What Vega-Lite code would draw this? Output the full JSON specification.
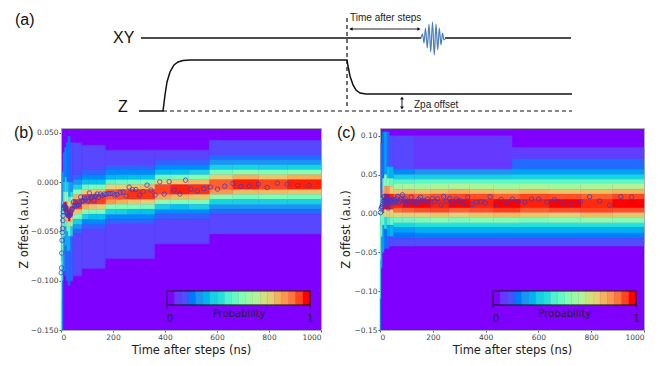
{"$schema":"https://vega.github.io/schema/vega-lite/v6.json","padding":{"left":13,"top":0,"right":0,"bottom":0},"background":"white","spacing":2,
"config":{"view":{"stroke":null},"axis":{"labelFont":"DejaVu Sans","titleFont":"DejaVu Sans","labelFontSize":7.5,"labelColor":"#444","titleFontSize":11.5,"titleFontWeight":"normal","titleColor":"#222","domainColor":"#aaa","tickColor":"#555","tickSize":2,"labelPadding":1,"grid":false}},
"vconcat":[
{"width":604,"height":122,
"encoding":{"x":{"field":"pos","type":"quantitative","scale":{"domain":[61,665]},"axis":null},"y":{"field":"lev","type":"quantitative","scale":{"domain":[122,0]},"axis":null}},
"layer":[
{"data":{"values":[{"part":"xy1","pos":141,"lev":38},{"part":"xy1","pos":421,"lev":38},{"part":"xy2","pos":445,"lev":38},{"part":"xy2","pos":571,"lev":38},{"part":"z","pos":139,"lev":111},{"part":"z","pos":163,"lev":111},{"part":"z","pos":165,"lev":95},{"part":"z","pos":167,"lev":82},{"part":"z","pos":170,"lev":72},{"part":"z","pos":174,"lev":65},{"part":"z","pos":178,"lev":62},{"part":"z","pos":183,"lev":60.5},{"part":"z","pos":190,"lev":60},{"part":"z","pos":347,"lev":60},{"part":"z","pos":348,"lev":66},{"part":"z","pos":350,"lev":76},{"part":"z","pos":353,"lev":85},{"part":"z","pos":356,"lev":90},{"part":"z","pos":360,"lev":93},{"part":"z","pos":366,"lev":94},{"part":"z","pos":572,"lev":94}]},"mark":{"type":"line","color":"#111","strokeWidth":1.5},"encoding":{"detail":{"field":"part"},"order":{"field":"pos"}}},
{"data":{"values":[{"part":"v","pos":347,"lev":18},{"part":"v","pos":347.01,"lev":108},{"part":"h","pos":163,"lev":111},{"part":"h","pos":572,"lev":111}]},"mark":{"type":"line","color":"#111","strokeWidth":1.2,"strokeDash":[4,3]},"encoding":{"detail":{"field":"part"}}},
{"data":{"values":[{"part":"a","pos":350,"lev":29},{"part":"a","pos":419,"lev":29},{"part":"b","pos":402,"lev":98},{"part":"b","pos":402.01,"lev":108}]},"mark":{"type":"line","color":"#222","strokeWidth":1},"encoding":{"detail":{"field":"part"}}},
{"data":{"values":[{"pos":351,"lev":29,"head":"left"},{"pos":419,"lev":29,"head":"right"},{"pos":402,"lev":98,"head":"up"},{"pos":402,"lev":108,"head":"down"}]},"mark":{"type":"point","filled":true,"color":"#111","opacity":1,"size":14},"encoding":{"shape":{"field":"head","type":"nominal","legend":null,"scale":{"domain":["left","right","up","down"],"range":["triangle-left","triangle-right","triangle-up","triangle-down"]}}}},
{"data":{"values":[{"pos":421,"lev":38},{"pos":422.5,"lev":34},{"pos":424,"lev":43},{"pos":425.5,"lev":28},{"pos":427.3,"lev":48},{"pos":429,"lev":24},{"pos":430.7,"lev":52},{"pos":432.5,"lev":22},{"pos":434.3,"lev":55},{"pos":436,"lev":24},{"pos":437.7,"lev":50},{"pos":439.3,"lev":28},{"pos":441,"lev":45},{"pos":442.5,"lev":33},{"pos":444,"lev":40},{"pos":445.5,"lev":38}]},"mark":{"type":"line","color":"#4a7ebb","strokeWidth":1.2,"interpolate":"monotone"}},
{"data":{"values":[{"txt":"(a)","pos":15,"lev":20},{"txt":"XY","pos":113,"lev":38},{"txt":"Z","pos":118,"lev":107}]},"mark":{"type":"text","font":"Liberation Sans","fontSize":16,"align":"left","baseline":"middle","color":"#111"},"encoding":{"text":{"field":"txt"}}},
{"data":{"values":[{"txt":"Time after steps","pos":350,"lev":18},{"txt":"Zpa offset","pos":414,"lev":105}]},"mark":{"type":"text","font":"Liberation Sans","fontSize":10,"align":"left","baseline":"middle","color":"#222"},"encoding":{"text":{"field":"txt"}}}
]},
{"spacing":14,"hconcat":[
{"width":260,"height":202,"view":{"fill":"#8000ff","stroke":"#aaa"},
"layer":[
{"data":{"values":[
{"t0":570,"t1":1000,"z0":0.0275,"z1":0.0425,"p":0.08},{"t0":570,"t1":1000,"z0":0.0225,"z1":0.0275,"p":0.13},{"t0":570,"t1":1000,"z0":0.0175,"z1":0.0225,"p":0.2},{"t0":570,"t1":1000,"z0":-0.0275,"z1":-0.0225,"p":0.2},{"t0":570,"t1":1000,"z0":-0.0325,"z1":-0.0275,"p":0.13},{"t0":570,"t1":1000,"z0":-0.0525,"z1":-0.0325,"p":0.08},
{"t0":870,"t1":1000,"z0":0.0125,"z1":0.0175,"p":0.32},{"t0":870,"t1":1000,"z0":0.0075,"z1":0.0125,"p":0.52},{"t0":870,"t1":1000,"z0":0.0025,"z1":0.0075,"p":0.76},{"t0":870,"t1":1000,"z0":-0.0075,"z1":0.0025,"p":0.98},{"t0":870,"t1":1000,"z0":-0.0125,"z1":-0.0075,"p":0.72},{"t0":870,"t1":1000,"z0":-0.0175,"z1":-0.0125,"p":0.48},{"t0":870,"t1":1000,"z0":-0.0225,"z1":-0.0175,"p":0.3},
{"t0":760,"t1":870,"z0":0.0125,"z1":0.0175,"p":0.3},{"t0":760,"t1":870,"z0":0.0075,"z1":0.0125,"p":0.5},{"t0":760,"t1":870,"z0":0.0025,"z1":0.0075,"p":0.72},{"t0":760,"t1":870,"z0":-0.0075,"z1":0.0025,"p":0.92},{"t0":760,"t1":870,"z0":-0.0125,"z1":-0.0075,"p":0.74},{"t0":760,"t1":870,"z0":-0.0175,"z1":-0.0125,"p":0.5},{"t0":760,"t1":870,"z0":-0.0225,"z1":-0.0175,"p":0.3},
{"t0":660,"t1":760,"z0":0.0125,"z1":0.0175,"p":0.32},{"t0":660,"t1":760,"z0":0.0075,"z1":0.0125,"p":0.52},{"t0":660,"t1":760,"z0":0.0025,"z1":0.0075,"p":0.76},{"t0":660,"t1":760,"z0":-0.0075,"z1":0.0025,"p":0.98},{"t0":660,"t1":760,"z0":-0.0125,"z1":-0.0075,"p":0.74},{"t0":660,"t1":760,"z0":-0.0175,"z1":-0.0125,"p":0.48},{"t0":660,"t1":760,"z0":-0.0225,"z1":-0.0175,"p":0.3},
{"t0":570,"t1":660,"z0":0.0125,"z1":0.0175,"p":0.3},{"t0":570,"t1":660,"z0":0.0075,"z1":0.0125,"p":0.48},{"t0":570,"t1":660,"z0":0.0025,"z1":0.0075,"p":0.7},{"t0":570,"t1":660,"z0":-0.0075,"z1":0.0025,"p":0.88},{"t0":570,"t1":660,"z0":-0.0125,"z1":-0.0075,"p":0.8},{"t0":570,"t1":660,"z0":-0.0175,"z1":-0.0125,"p":0.52},{"t0":570,"t1":660,"z0":-0.0225,"z1":-0.0175,"p":0.32},
{"t0":360,"t1":570,"z0":0.0225,"z1":0.0325,"p":0.07},{"t0":360,"t1":570,"z0":0.0175,"z1":0.0225,"p":0.12},{"t0":360,"t1":570,"z0":0.0125,"z1":0.0175,"p":0.18},{"t0":360,"t1":570,"z0":-0.0325,"z1":-0.0275,"p":0.18},{"t0":360,"t1":570,"z0":-0.0375,"z1":-0.0325,"p":0.12},{"t0":360,"t1":570,"z0":-0.0625,"z1":-0.0375,"p":0.07},
{"t0":490,"t1":570,"z0":0.0075,"z1":0.0125,"p":0.3},{"t0":490,"t1":570,"z0":0.0025,"z1":0.0075,"p":0.5},{"t0":490,"t1":570,"z0":-0.0025,"z1":0.0025,"p":0.74},{"t0":490,"t1":570,"z0":-0.0125,"z1":-0.0025,"p":0.96},{"t0":490,"t1":570,"z0":-0.0175,"z1":-0.0125,"p":0.72},{"t0":490,"t1":570,"z0":-0.0225,"z1":-0.0175,"p":0.5},{"t0":490,"t1":570,"z0":-0.0275,"z1":-0.0225,"p":0.3},
{"t0":420,"t1":490,"z0":0.0075,"z1":0.0125,"p":0.28},{"t0":420,"t1":490,"z0":0.0025,"z1":0.0075,"p":0.48},{"t0":420,"t1":490,"z0":-0.0025,"z1":0.0025,"p":0.72},{"t0":420,"t1":490,"z0":-0.0125,"z1":-0.0025,"p":0.98},{"t0":420,"t1":490,"z0":-0.0175,"z1":-0.0125,"p":0.74},{"t0":420,"t1":490,"z0":-0.0225,"z1":-0.0175,"p":0.5},{"t0":420,"t1":490,"z0":-0.0275,"z1":-0.0225,"p":0.28},
{"t0":360,"t1":420,"z0":0.0075,"z1":0.0125,"p":0.27},{"t0":360,"t1":420,"z0":0.0025,"z1":0.0075,"p":0.46},{"t0":360,"t1":420,"z0":-0.0025,"z1":0.0025,"p":0.68},{"t0":360,"t1":420,"z0":-0.0125,"z1":-0.0025,"p":0.92},{"t0":360,"t1":420,"z0":-0.0175,"z1":-0.0125,"p":0.78},{"t0":360,"t1":420,"z0":-0.0225,"z1":-0.0175,"p":0.52},{"t0":360,"t1":420,"z0":-0.0275,"z1":-0.0225,"p":0.3},
{"t0":170,"t1":360,"z0":0.0175,"z1":0.0325,"p":0.07},{"t0":170,"t1":360,"z0":0.0125,"z1":0.0175,"p":0.12},{"t0":170,"t1":360,"z0":0.0075,"z1":0.0125,"p":0.18},{"t0":170,"t1":360,"z0":-0.0375,"z1":-0.0325,"p":0.18},{"t0":170,"t1":360,"z0":-0.0425,"z1":-0.0375,"p":0.12},{"t0":170,"t1":360,"z0":-0.0775,"z1":-0.0425,"p":0.07},
{"t0":305,"t1":360,"z0":0.0025,"z1":0.0075,"p":0.28},{"t0":305,"t1":360,"z0":-0.0025,"z1":0.0025,"p":0.48},{"t0":305,"t1":360,"z0":-0.0075,"z1":-0.0025,"p":0.74},{"t0":305,"t1":360,"z0":-0.0175,"z1":-0.0075,"p":0.95},{"t0":305,"t1":360,"z0":-0.0225,"z1":-0.0175,"p":0.7},{"t0":305,"t1":360,"z0":-0.0275,"z1":-0.0225,"p":0.48},{"t0":305,"t1":360,"z0":-0.0325,"z1":-0.0275,"p":0.28},
{"t0":255,"t1":305,"z0":0.0025,"z1":0.0075,"p":0.27},{"t0":255,"t1":305,"z0":-0.0025,"z1":0.0025,"p":0.47},{"t0":255,"t1":305,"z0":-0.0075,"z1":-0.0025,"p":0.72},{"t0":255,"t1":305,"z0":-0.0175,"z1":-0.0075,"p":0.96},{"t0":255,"t1":305,"z0":-0.0225,"z1":-0.0175,"p":0.72},{"t0":255,"t1":305,"z0":-0.0275,"z1":-0.0225,"p":0.5},{"t0":255,"t1":305,"z0":-0.0325,"z1":-0.0275,"p":0.28},
{"t0":210,"t1":255,"z0":0.0025,"z1":0.0075,"p":0.26},{"t0":210,"t1":255,"z0":-0.0025,"z1":0.0025,"p":0.45},{"t0":210,"t1":255,"z0":-0.0075,"z1":-0.0025,"p":0.7},{"t0":210,"t1":255,"z0":-0.0175,"z1":-0.0075,"p":0.9},{"t0":210,"t1":255,"z0":-0.0225,"z1":-0.0175,"p":0.76},{"t0":210,"t1":255,"z0":-0.0275,"z1":-0.0225,"p":0.5},{"t0":210,"t1":255,"z0":-0.0325,"z1":-0.0275,"p":0.3},
{"t0":170,"t1":210,"z0":0.0025,"z1":0.0075,"p":0.25},{"t0":170,"t1":210,"z0":-0.0025,"z1":0.0025,"p":0.42},{"t0":170,"t1":210,"z0":-0.0075,"z1":-0.0025,"p":0.68},{"t0":170,"t1":210,"z0":-0.0175,"z1":-0.0075,"p":0.88},{"t0":170,"t1":210,"z0":-0.0225,"z1":-0.0175,"p":0.8},{"t0":170,"t1":210,"z0":-0.0275,"z1":-0.0225,"p":0.52},{"t0":170,"t1":210,"z0":-0.0325,"z1":-0.0275,"p":0.32},
{"t0":80,"t1":170,"z0":0.0125,"z1":0.0375,"p":0.08},{"t0":80,"t1":170,"z0":0.0075,"z1":0.0125,"p":0.12},{"t0":80,"t1":170,"z0":0.0025,"z1":0.0075,"p":0.18},{"t0":80,"t1":170,"z0":-0.0425,"z1":-0.0375,"p":0.18},{"t0":80,"t1":170,"z0":-0.0475,"z1":-0.0425,"p":0.12},{"t0":80,"t1":170,"z0":-0.0875,"z1":-0.0475,"p":0.07},
{"t0":135,"t1":170,"z0":-0.0025,"z1":0.0025,"p":0.28},{"t0":135,"t1":170,"z0":-0.0075,"z1":-0.0025,"p":0.48},{"t0":135,"t1":170,"z0":-0.0125,"z1":-0.0075,"p":0.74},{"t0":135,"t1":170,"z0":-0.0225,"z1":-0.0125,"p":0.94},{"t0":135,"t1":170,"z0":-0.0275,"z1":-0.0225,"p":0.7},{"t0":135,"t1":170,"z0":-0.0325,"z1":-0.0275,"p":0.48},{"t0":135,"t1":170,"z0":-0.0375,"z1":-0.0325,"p":0.28},
{"t0":105,"t1":135,"z0":-0.0025,"z1":0.0025,"p":0.28},{"t0":105,"t1":135,"z0":-0.0075,"z1":-0.0025,"p":0.48},{"t0":105,"t1":135,"z0":-0.0125,"z1":-0.0075,"p":0.72},{"t0":105,"t1":135,"z0":-0.0225,"z1":-0.0125,"p":0.96},{"t0":105,"t1":135,"z0":-0.0275,"z1":-0.0225,"p":0.72},{"t0":105,"t1":135,"z0":-0.0325,"z1":-0.0275,"p":0.48},{"t0":105,"t1":135,"z0":-0.0375,"z1":-0.0325,"p":0.28},
{"t0":80,"t1":105,"z0":-0.0025,"z1":0.0025,"p":0.28},{"t0":80,"t1":105,"z0":-0.0075,"z1":-0.0025,"p":0.46},{"t0":80,"t1":105,"z0":-0.0125,"z1":-0.0075,"p":0.7},{"t0":80,"t1":105,"z0":-0.0225,"z1":-0.0125,"p":0.9},{"t0":80,"t1":105,"z0":-0.0275,"z1":-0.0225,"p":0.76},{"t0":80,"t1":105,"z0":-0.0325,"z1":-0.0275,"p":0.5},{"t0":80,"t1":105,"z0":-0.0375,"z1":-0.0325,"p":0.3},
{"t0":45,"t1":80,"z0":0.0075,"z1":0.04,"p":0.09},{"t0":45,"t1":80,"z0":0.0025,"z1":0.0075,"p":0.13},{"t0":45,"t1":80,"z0":-0.0025,"z1":0.0025,"p":0.2},{"t0":45,"t1":80,"z0":-0.0475,"z1":-0.0425,"p":0.2},{"t0":45,"t1":80,"z0":-0.0525,"z1":-0.0475,"p":0.13},{"t0":45,"t1":80,"z0":-0.095,"z1":-0.0525,"p":0.08},
{"t0":45,"t1":80,"z0":-0.0075,"z1":-0.0025,"p":0.3},{"t0":45,"t1":80,"z0":-0.0125,"z1":-0.0075,"p":0.5},{"t0":45,"t1":80,"z0":-0.0175,"z1":-0.0125,"p":0.75},{"t0":45,"t1":80,"z0":-0.0275,"z1":-0.0175,"p":0.95},{"t0":45,"t1":80,"z0":-0.0325,"z1":-0.0275,"p":0.72},{"t0":45,"t1":80,"z0":-0.0375,"z1":-0.0325,"p":0.5},{"t0":45,"t1":80,"z0":-0.0425,"z1":-0.0375,"p":0.3},
{"t0":35,"t1":45,"z0":0,"z1":0.04,"p":0.1},{"t0":35,"t1":45,"z0":-0.01,"z1":0,"p":0.2},{"t0":35,"t1":45,"z0":-0.015,"z1":-0.01,"p":0.35},{"t0":35,"t1":45,"z0":-0.02,"z1":-0.015,"p":0.55},{"t0":35,"t1":45,"z0":-0.025,"z1":-0.02,"p":0.8},{"t0":35,"t1":45,"z0":-0.035,"z1":-0.025,"p":0.95},{"t0":35,"t1":45,"z0":-0.04,"z1":-0.035,"p":0.7},{"t0":35,"t1":45,"z0":-0.045,"z1":-0.04,"p":0.5},{"t0":35,"t1":45,"z0":-0.055,"z1":-0.045,"p":0.3},{"t0":35,"t1":45,"z0":-0.1,"z1":-0.055,"p":0.12},
{"t0":27,"t1":35,"z0":0,"z1":0.047,"p":0.15},{"t0":27,"t1":35,"z0":-0.015,"z1":0,"p":0.25},{"t0":27,"t1":35,"z0":-0.02,"z1":-0.015,"p":0.4},{"t0":27,"t1":35,"z0":-0.025,"z1":-0.02,"p":0.6},{"t0":27,"t1":35,"z0":-0.03,"z1":-0.025,"p":0.85},{"t0":27,"t1":35,"z0":-0.04,"z1":-0.03,"p":1},{"t0":27,"t1":35,"z0":-0.045,"z1":-0.04,"p":0.7},{"t0":27,"t1":35,"z0":-0.055,"z1":-0.045,"p":0.45},{"t0":27,"t1":35,"z0":-0.07,"z1":-0.055,"p":0.25},{"t0":27,"t1":35,"z0":-0.105,"z1":-0.07,"p":0.14},
{"t0":20,"t1":27,"z0":0,"z1":0.04,"p":0.15},{"t0":20,"t1":27,"z0":-0.01,"z1":0,"p":0.3},{"t0":20,"t1":27,"z0":-0.02,"z1":-0.01,"p":0.5},{"t0":20,"t1":27,"z0":-0.025,"z1":-0.02,"p":0.8},{"t0":20,"t1":27,"z0":-0.035,"z1":-0.025,"p":1},{"t0":20,"t1":27,"z0":-0.04,"z1":-0.035,"p":0.75},{"t0":20,"t1":27,"z0":-0.05,"z1":-0.04,"p":0.45},{"t0":20,"t1":27,"z0":-0.07,"z1":-0.05,"p":0.25},{"t0":20,"t1":27,"z0":-0.1,"z1":-0.07,"p":0.12},
{"t0":14,"t1":20,"z0":0.005,"z1":0.035,"p":0.18},{"t0":14,"t1":20,"z0":-0.01,"z1":0.005,"p":0.35},{"t0":14,"t1":20,"z0":-0.02,"z1":-0.01,"p":0.6},{"t0":14,"t1":20,"z0":-0.03,"z1":-0.02,"p":1},{"t0":14,"t1":20,"z0":-0.035,"z1":-0.03,"p":0.7},{"t0":14,"t1":20,"z0":-0.045,"z1":-0.035,"p":0.45},{"t0":14,"t1":20,"z0":-0.065,"z1":-0.045,"p":0.25},{"t0":14,"t1":20,"z0":-0.095,"z1":-0.065,"p":0.12},
{"t0":8,"t1":14,"z0":0,"z1":0.03,"p":0.18},{"t0":8,"t1":14,"z0":-0.01,"z1":0,"p":0.3},{"t0":8,"t1":14,"z0":-0.02,"z1":-0.01,"p":0.5},{"t0":8,"t1":14,"z0":-0.03,"z1":-0.02,"p":0.95},{"t0":8,"t1":14,"z0":-0.04,"z1":-0.03,"p":0.7},{"t0":8,"t1":14,"z0":-0.055,"z1":-0.04,"p":0.4},{"t0":8,"t1":14,"z0":-0.09,"z1":-0.055,"p":0.2},
{"t0":3,"t1":8,"z0":-0.02,"z1":0.01,"p":0.2},{"t0":3,"t1":8,"z0":-0.035,"z1":-0.02,"p":0.4},{"t0":3,"t1":8,"z0":-0.055,"z1":-0.035,"p":0.55},{"t0":3,"t1":8,"z0":-0.075,"z1":-0.055,"p":0.45},{"t0":3,"t1":8,"z0":-0.1,"z1":-0.075,"p":0.3},{"t0":3,"t1":8,"z0":-0.15,"z1":-0.1,"p":0.15},
{"t0":0,"t1":3,"z0":-0.05,"z1":-0.02,"p":0.2},{"t0":0,"t1":3,"z0":-0.08,"z1":-0.05,"p":0.35},{"t0":0,"t1":3,"z0":-0.12,"z1":-0.08,"p":0.45},{"t0":0,"t1":3,"z0":-0.15,"z1":-0.12,"p":0.4},
{"t0":408,"t1":436,"z0":-0.1246,"z1":-0.1104,"p":0},{"t0":436,"t1":463,"z0":-0.1246,"z1":-0.1104,"p":0.05},{"t0":463,"t1":491,"z0":-0.1246,"z1":-0.1104,"p":0.1},{"t0":491,"t1":518,"z0":-0.1246,"z1":-0.1104,"p":0.15},{"t0":518,"t1":546,"z0":-0.1246,"z1":-0.1104,"p":0.2},{"t0":546,"t1":573,"z0":-0.1246,"z1":-0.1104,"p":0.25},{"t0":573,"t1":601,"z0":-0.1246,"z1":-0.1104,"p":0.3},{"t0":601,"t1":628,"z0":-0.1246,"z1":-0.1104,"p":0.35},{"t0":628,"t1":656,"z0":-0.1246,"z1":-0.1104,"p":0.4},{"t0":656,"t1":683,"z0":-0.1246,"z1":-0.1104,"p":0.45},{"t0":683,"t1":711,"z0":-0.1246,"z1":-0.1104,"p":0.5},{"t0":711,"t1":738,"z0":-0.1246,"z1":-0.1104,"p":0.55},{"t0":738,"t1":766,"z0":-0.1246,"z1":-0.1104,"p":0.6},{"t0":766,"t1":793,"z0":-0.1246,"z1":-0.1104,"p":0.65},{"t0":793,"t1":821,"z0":-0.1246,"z1":-0.1104,"p":0.7},{"t0":821,"t1":848,"z0":-0.1246,"z1":-0.1104,"p":0.75},{"t0":848,"t1":876,"z0":-0.1246,"z1":-0.1104,"p":0.8},{"t0":876,"t1":903,"z0":-0.1246,"z1":-0.1104,"p":0.85},{"t0":903,"t1":931,"z0":-0.1246,"z1":-0.1104,"p":0.92},{"t0":931,"t1":958,"z0":-0.1246,"z1":-0.1104,"p":1}
]},"mark":{"type":"rect","strokeWidth":0.4},
"encoding":{"x":{"field":"t0","type":"quantitative","title":"Time after steps (ns)","scale":{"domain":[0,1000],"nice":false},"axis":{"values":[0,200,400,600,800,1000],"format":"d"}},"x2":{"field":"t1"},"y":{"field":"z0","type":"quantitative","title":"Z offest (a.u.)","scale":{"domain":[-0.15,0.055],"nice":false},"axis":{"values":[-0.15,-0.125,-0.1,-0.075,-0.05,-0.025,0,0.025,0.05],"format":".3f","titlePadding":1}},"y2":{"field":"z1"},
"stroke":{"field":"p","type":"quantitative","legend":null,"scale":{"domain":[0,0.1,0.2,0.3,0.4,0.5,0.6,0.7,0.8,0.9,1],"range":["#8000ff","#4d4ffc","#1a96f2","#1acee3","#4df2ce","#80ffb4","#b3f296","#e6ce74","#ff964f","#ff4f28","#ff0000"]}},
"color":{"field":"p","type":"quantitative","legend":null,"scale":{"domain":[0,0.1,0.2,0.3,0.4,0.5,0.6,0.7,0.8,0.9,1],"range":["#8000ff","#4d4ffc","#1a96f2","#1acee3","#4df2ce","#80ffb4","#b3f296","#e6ce74","#ff964f","#ff4f28","#ff0000"]}}}},
{"data":{"values":[{"t0":408,"t1":958,"z0":-0.1246,"z1":-0.1104}]},"mark":{"type":"rect","fill":null,"stroke":"#111","strokeWidth":1},"encoding":{"x":{"field":"t0","type":"quantitative"},"x2":{"field":"t1"},"y":{"field":"z0","type":"quantitative"},"y2":{"field":"z1"}}},
{"data":{"values":[{"t":954,"z":-0.0034},{"t":910,"z":-0.0034},{"t":870,"z":-0.002},{"t":832,"z":-0.001},{"t":793,"z":-0.0054},{"t":759,"z":-0.002},{"t":724,"z":-0.004},{"t":692,"z":-0.0044},{"t":661,"z":-0.0013},{"t":630,"z":-0.004},{"t":602,"z":-0.007},{"t":574,"z":-0.005},{"t":549,"z":-0.0064},{"t":524,"z":-0.009},{"t":500,"z":-0.007},{"t":479,"z":0.002},{"t":457,"z":-0.012},{"t":435,"z":-0.008},{"t":416,"z":0.0005},{"t":397,"z":-0.012},{"t":380,"z":0.0003},{"t":362,"z":-0.013},{"t":346,"z":-0.008},{"t":331,"z":-0.003},{"t":316,"z":-0.0095},{"t":302,"z":-0.013},{"t":288,"z":-0.0075},{"t":275,"z":-0.0075},{"t":262,"z":-0.005},{"t":250,"z":-0.014},{"t":239,"z":-0.01},{"t":228,"z":-0.0105},{"t":216,"z":-0.0125},{"t":207,"z":-0.013},{"t":198,"z":-0.0115},{"t":189,"z":-0.0115},{"t":181,"z":-0.0115},{"t":173,"z":-0.0125},{"t":166,"z":-0.012},{"t":159,"z":-0.0135},{"t":152,"z":-0.012},{"t":145,"z":-0.0155},{"t":139,"z":-0.012},{"t":133,"z":-0.014},{"t":127,"z":-0.0185},{"t":121,"z":-0.015},{"t":115,"z":-0.016},{"t":109,"z":-0.011},{"t":104,"z":-0.019},{"t":99,"z":-0.016},{"t":94,"z":-0.018},{"t":90,"z":-0.016},{"t":85,"z":-0.019},{"t":81,"z":-0.019},{"t":76,"z":-0.015},{"t":72,"z":-0.02},{"t":68,"z":-0.023},{"t":64,"z":-0.023},{"t":60,"z":-0.024},{"t":56,"z":-0.021},{"t":52,"z":-0.024},{"t":48,"z":-0.02},{"t":44,"z":-0.027},{"t":41,"z":-0.028},{"t":38,"z":-0.03},{"t":35,"z":-0.032},{"t":33,"z":-0.034},{"t":30,"z":-0.034},{"t":28,"z":-0.034},{"t":26,"z":-0.033},{"t":24,"z":-0.032},{"t":22,"z":-0.03},{"t":20,"z":-0.028},{"t":18,"z":-0.026},{"t":16,"z":-0.025},{"t":14,"z":-0.024},{"t":12,"z":-0.024},{"t":10,"z":-0.026},{"t":9,"z":-0.03},{"t":8,"z":-0.034},{"t":7,"z":-0.039},{"t":6,"z":-0.047},{"t":5,"z":-0.051},{"t":4,"z":-0.059},{"t":3,"z":-0.072},{"t":2,"z":-0.087},{"t":1,"z":-0.092}]},"mark":{"type":"point","stroke":"#3a3ad0","strokeWidth":1,"opacity":0.75,"fill":null,"size":20},"encoding":{"x":{"field":"t","type":"quantitative"},"y":{"field":"z","type":"quantitative"}}},
{"data":{"values":[{"t":408,"z":-0.1246},{"t":408,"z":-0.128},{"t":958,"z":-0.1246},{"t":958,"z":-0.128}]},"mark":{"type":"line","color":"#111","strokeWidth":1},"encoding":{"x":{"field":"t","type":"quantitative"},"y":{"field":"z","type":"quantitative"},"detail":{"field":"t"}}},
{"data":{"values":[{"txt":"Probability","t":685,"z":-0.134},{"txt":"0","t":419,"z":-0.1388},{"txt":"1","t":958,"z":-0.1388}]},"mark":{"type":"text","font":"DejaVu Sans","fontSize":10,"color":"#222","baseline":"middle"},"encoding":{"x":{"field":"t","type":"quantitative"},"y":{"field":"z","type":"quantitative"},"text":{"field":"txt"}}},
{"data":{"values":[{"txt":"(b)","t":-181,"z":0.05}]},"mark":{"type":"text","font":"Liberation Sans","fontSize":16,"color":"#111","align":"left","baseline":"middle"},"encoding":{"x":{"field":"t","type":"quantitative"},"y":{"field":"z","type":"quantitative"},"text":{"field":"txt"}}}
]},
{"width":264,"height":202,"view":{"fill":"#8000ff","stroke":"#aaa"},
"layer":[
{"data":{"values":[
{"t0":500,"t1":1000,"z0":0.07,"z1":0.085,"p":0.06},{"t0":500,"t1":1000,"z0":0.057,"z1":0.07,"p":0.13},{"t0":500,"t1":1000,"z0":0.05,"z1":0.057,"p":0.22},{"t0":500,"t1":1000,"z0":0.044,"z1":0.05,"p":0.32},{"t0":500,"t1":1000,"z0":0.038,"z1":0.044,"p":0.44},{"t0":500,"t1":1000,"z0":-0.018,"z1":-0.012,"p":0.35},{"t0":500,"t1":1000,"z0":-0.025,"z1":-0.018,"p":0.24},{"t0":500,"t1":1000,"z0":-0.032,"z1":-0.025,"p":0.16},{"t0":500,"t1":1000,"z0":-0.042,"z1":-0.032,"p":0.1},
{"t0":130,"t1":500,"z0":0.057,"z1":0.1,"p":0.05},{"t0":130,"t1":500,"z0":0.05,"z1":0.057,"p":0.2},{"t0":130,"t1":500,"z0":0.044,"z1":0.05,"p":0.3},{"t0":130,"t1":500,"z0":0.038,"z1":0.044,"p":0.44},{"t0":130,"t1":500,"z0":-0.018,"z1":-0.012,"p":0.35},{"t0":130,"t1":500,"z0":-0.025,"z1":-0.018,"p":0.24},{"t0":130,"t1":500,"z0":-0.032,"z1":-0.025,"p":0.16},{"t0":130,"t1":500,"z0":-0.042,"z1":-0.032,"p":0.1},
{"t0":50,"t1":130,"z0":0.057,"z1":0.1,"p":0.08},{"t0":50,"t1":130,"z0":0.05,"z1":0.057,"p":0.18},{"t0":50,"t1":130,"z0":0.044,"z1":0.05,"p":0.3},{"t0":50,"t1":130,"z0":0.038,"z1":0.044,"p":0.42},{"t0":50,"t1":130,"z0":-0.018,"z1":-0.012,"p":0.33},{"t0":50,"t1":130,"z0":-0.025,"z1":-0.018,"p":0.22},{"t0":50,"t1":130,"z0":-0.032,"z1":-0.025,"p":0.15},{"t0":50,"t1":130,"z0":-0.042,"z1":-0.032,"p":0.1},
{"t0":880,"t1":1000,"z0":0.031,"z1":0.038,"p":0.6},{"t0":880,"t1":1000,"z0":0.025,"z1":0.031,"p":0.75},{"t0":880,"t1":1000,"z0":0.018,"z1":0.025,"p":0.92},{"t0":880,"t1":1000,"z0":0.007,"z1":0.018,"p":1},{"t0":880,"t1":1000,"z0":0.001,"z1":0.007,"p":0.9},{"t0":880,"t1":1000,"z0":-0.005,"z1":0.001,"p":0.72},{"t0":880,"t1":1000,"z0":-0.012,"z1":-0.005,"p":0.5},
{"t0":760,"t1":880,"z0":0.031,"z1":0.038,"p":0.58},{"t0":760,"t1":880,"z0":0.025,"z1":0.031,"p":0.73},{"t0":760,"t1":880,"z0":0.018,"z1":0.025,"p":0.88},{"t0":760,"t1":880,"z0":0.007,"z1":0.018,"p":0.97},{"t0":760,"t1":880,"z0":0.001,"z1":0.007,"p":0.92},{"t0":760,"t1":880,"z0":-0.005,"z1":0.001,"p":0.74},{"t0":760,"t1":880,"z0":-0.012,"z1":-0.005,"p":0.52},
{"t0":640,"t1":760,"z0":0.031,"z1":0.038,"p":0.56},{"t0":640,"t1":760,"z0":0.025,"z1":0.031,"p":0.72},{"t0":640,"t1":760,"z0":0.018,"z1":0.025,"p":0.9},{"t0":640,"t1":760,"z0":0.007,"z1":0.018,"p":1},{"t0":640,"t1":760,"z0":0.001,"z1":0.007,"p":0.9},{"t0":640,"t1":760,"z0":-0.005,"z1":0.001,"p":0.7},{"t0":640,"t1":760,"z0":-0.012,"z1":-0.005,"p":0.5},
{"t0":530,"t1":640,"z0":0.031,"z1":0.038,"p":0.58},{"t0":530,"t1":640,"z0":0.025,"z1":0.031,"p":0.74},{"t0":530,"t1":640,"z0":0.018,"z1":0.025,"p":0.92},{"t0":530,"t1":640,"z0":0.007,"z1":0.018,"p":0.98},{"t0":530,"t1":640,"z0":0.001,"z1":0.007,"p":0.88},{"t0":530,"t1":640,"z0":-0.005,"z1":0.001,"p":0.72},{"t0":530,"t1":640,"z0":-0.012,"z1":-0.005,"p":0.48},
{"t0":430,"t1":530,"z0":0.031,"z1":0.038,"p":0.56},{"t0":430,"t1":530,"z0":0.025,"z1":0.031,"p":0.72},{"t0":430,"t1":530,"z0":0.018,"z1":0.025,"p":0.88},{"t0":430,"t1":530,"z0":0.007,"z1":0.018,"p":1},{"t0":430,"t1":530,"z0":0.001,"z1":0.007,"p":0.94},{"t0":430,"t1":530,"z0":-0.005,"z1":0.001,"p":0.74},{"t0":430,"t1":530,"z0":-0.012,"z1":-0.005,"p":0.5},
{"t0":340,"t1":430,"z0":0.031,"z1":0.038,"p":0.58},{"t0":340,"t1":430,"z0":0.025,"z1":0.031,"p":0.74},{"t0":340,"t1":430,"z0":0.018,"z1":0.025,"p":0.9},{"t0":340,"t1":430,"z0":0.007,"z1":0.018,"p":0.98},{"t0":340,"t1":430,"z0":0.001,"z1":0.007,"p":0.9},{"t0":340,"t1":430,"z0":-0.005,"z1":0.001,"p":0.72},{"t0":340,"t1":430,"z0":-0.012,"z1":-0.005,"p":0.5},
{"t0":260,"t1":340,"z0":0.031,"z1":0.038,"p":0.6},{"t0":260,"t1":340,"z0":0.025,"z1":0.031,"p":0.76},{"t0":260,"t1":340,"z0":0.018,"z1":0.025,"p":0.92},{"t0":260,"t1":340,"z0":0.007,"z1":0.018,"p":1},{"t0":260,"t1":340,"z0":0.001,"z1":0.007,"p":0.88},{"t0":260,"t1":340,"z0":-0.005,"z1":0.001,"p":0.7},{"t0":260,"t1":340,"z0":-0.012,"z1":-0.005,"p":0.48},
{"t0":190,"t1":260,"z0":0.031,"z1":0.038,"p":0.58},{"t0":190,"t1":260,"z0":0.025,"z1":0.031,"p":0.74},{"t0":190,"t1":260,"z0":0.018,"z1":0.025,"p":0.9},{"t0":190,"t1":260,"z0":0.007,"z1":0.018,"p":0.98},{"t0":190,"t1":260,"z0":0.001,"z1":0.007,"p":0.92},{"t0":190,"t1":260,"z0":-0.005,"z1":0.001,"p":0.72},{"t0":190,"t1":260,"z0":-0.012,"z1":-0.005,"p":0.5},
{"t0":130,"t1":190,"z0":0.031,"z1":0.038,"p":0.56},{"t0":130,"t1":190,"z0":0.025,"z1":0.031,"p":0.72},{"t0":130,"t1":190,"z0":0.018,"z1":0.025,"p":0.88},{"t0":130,"t1":190,"z0":0.007,"z1":0.018,"p":1},{"t0":130,"t1":190,"z0":0.001,"z1":0.007,"p":0.9},{"t0":130,"t1":190,"z0":-0.005,"z1":0.001,"p":0.7},{"t0":130,"t1":190,"z0":-0.012,"z1":-0.005,"p":0.48},
{"t0":85,"t1":130,"z0":0.031,"z1":0.038,"p":0.58},{"t0":85,"t1":130,"z0":0.025,"z1":0.031,"p":0.74},{"t0":85,"t1":130,"z0":0.018,"z1":0.025,"p":0.9},{"t0":85,"t1":130,"z0":0.007,"z1":0.018,"p":1},{"t0":85,"t1":130,"z0":0.001,"z1":0.007,"p":0.88},{"t0":85,"t1":130,"z0":-0.005,"z1":0.001,"p":0.7},{"t0":85,"t1":130,"z0":-0.012,"z1":-0.005,"p":0.46},
{"t0":50,"t1":85,"z0":0.031,"z1":0.038,"p":0.56},{"t0":50,"t1":85,"z0":0.025,"z1":0.031,"p":0.72},{"t0":50,"t1":85,"z0":0.018,"z1":0.025,"p":0.9},{"t0":50,"t1":85,"z0":0.007,"z1":0.018,"p":0.98},{"t0":50,"t1":85,"z0":0.001,"z1":0.007,"p":0.86},{"t0":50,"t1":85,"z0":-0.005,"z1":0.001,"p":0.68},{"t0":50,"t1":85,"z0":-0.012,"z1":-0.005,"p":0.46},
{"t0":35,"t1":50,"z0":0.06,"z1":0.1,"p":0.1},{"t0":35,"t1":50,"z0":0.045,"z1":0.06,"p":0.25},{"t0":35,"t1":50,"z0":0.035,"z1":0.045,"p":0.45},{"t0":35,"t1":50,"z0":0.025,"z1":0.035,"p":0.7},{"t0":35,"t1":50,"z0":0.005,"z1":0.025,"p":0.98},{"t0":35,"t1":50,"z0":-0.005,"z1":0.005,"p":0.7},{"t0":35,"t1":50,"z0":-0.015,"z1":-0.005,"p":0.45},{"t0":35,"t1":50,"z0":-0.03,"z1":-0.015,"p":0.25},{"t0":35,"t1":50,"z0":-0.042,"z1":-0.03,"p":0.1},
{"t0":25,"t1":35,"z0":0.06,"z1":0.105,"p":0.12},{"t0":25,"t1":35,"z0":0.045,"z1":0.06,"p":0.28},{"t0":25,"t1":35,"z0":0.035,"z1":0.045,"p":0.5},{"t0":25,"t1":35,"z0":0.025,"z1":0.035,"p":0.8},{"t0":25,"t1":35,"z0":0.005,"z1":0.025,"p":1},{"t0":25,"t1":35,"z0":-0.005,"z1":0.005,"p":0.7},{"t0":25,"t1":35,"z0":-0.015,"z1":-0.005,"p":0.4},{"t0":25,"t1":35,"z0":-0.03,"z1":-0.015,"p":0.22},{"t0":25,"t1":35,"z0":-0.045,"z1":-0.03,"p":0.1},
{"t0":15,"t1":25,"z0":0.05,"z1":0.105,"p":0.22},{"t0":15,"t1":25,"z0":0.035,"z1":0.05,"p":0.5},{"t0":15,"t1":25,"z0":0.025,"z1":0.035,"p":0.8},{"t0":15,"t1":25,"z0":0.005,"z1":0.025,"p":1},{"t0":15,"t1":25,"z0":-0.005,"z1":0.005,"p":0.65},{"t0":15,"t1":25,"z0":-0.02,"z1":-0.005,"p":0.35},{"t0":15,"t1":25,"z0":-0.045,"z1":-0.02,"p":0.15},
{"t0":8,"t1":15,"z0":0.045,"z1":0.105,"p":0.15},{"t0":8,"t1":15,"z0":0.03,"z1":0.045,"p":0.45},{"t0":8,"t1":15,"z0":0.02,"z1":0.03,"p":0.75},{"t0":8,"t1":15,"z0":0,"z1":0.02,"p":0.95},{"t0":8,"t1":15,"z0":-0.015,"z1":0,"p":0.5},{"t0":8,"t1":15,"z0":-0.05,"z1":-0.015,"p":0.2},
{"t0":3,"t1":8,"z0":0.02,"z1":0.09,"p":0.12},{"t0":3,"t1":8,"z0":0.005,"z1":0.02,"p":0.4},{"t0":3,"t1":8,"z0":-0.01,"z1":0.005,"p":0.65},{"t0":3,"t1":8,"z0":-0.03,"z1":-0.01,"p":0.45},{"t0":3,"t1":8,"z0":-0.07,"z1":-0.03,"p":0.2},
{"t0":0,"t1":3,"z0":-0.02,"z1":0.02,"p":0.4},{"t0":0,"t1":3,"z0":-0.06,"z1":-0.02,"p":0.45},{"t0":0,"t1":3,"z0":-0.11,"z1":-0.06,"p":0.3},{"t0":0,"t1":3,"z0":-0.15,"z1":-0.11,"p":0.15},
{"t0":428,"t1":455,"z0":-0.1178,"z1":-0.0998,"p":0},{"t0":455,"t1":482,"z0":-0.1178,"z1":-0.0998,"p":0.05},{"t0":482,"t1":509,"z0":-0.1178,"z1":-0.0998,"p":0.1},{"t0":509,"t1":536,"z0":-0.1178,"z1":-0.0998,"p":0.15},{"t0":536,"t1":564,"z0":-0.1178,"z1":-0.0998,"p":0.2},{"t0":564,"t1":591,"z0":-0.1178,"z1":-0.0998,"p":0.25},{"t0":591,"t1":618,"z0":-0.1178,"z1":-0.0998,"p":0.3},{"t0":618,"t1":645,"z0":-0.1178,"z1":-0.0998,"p":0.35},{"t0":645,"t1":672,"z0":-0.1178,"z1":-0.0998,"p":0.4},{"t0":672,"t1":699,"z0":-0.1178,"z1":-0.0998,"p":0.45},{"t0":699,"t1":726,"z0":-0.1178,"z1":-0.0998,"p":0.5},{"t0":726,"t1":753,"z0":-0.1178,"z1":-0.0998,"p":0.55},{"t0":753,"t1":780,"z0":-0.1178,"z1":-0.0998,"p":0.6},{"t0":780,"t1":807,"z0":-0.1178,"z1":-0.0998,"p":0.65},{"t0":807,"t1":834,"z0":-0.1178,"z1":-0.0998,"p":0.7},{"t0":834,"t1":862,"z0":-0.1178,"z1":-0.0998,"p":0.75},{"t0":862,"t1":889,"z0":-0.1178,"z1":-0.0998,"p":0.8},{"t0":889,"t1":916,"z0":-0.1178,"z1":-0.0998,"p":0.85},{"t0":916,"t1":943,"z0":-0.1178,"z1":-0.0998,"p":0.92},{"t0":943,"t1":970,"z0":-0.1178,"z1":-0.0998,"p":1}
]},"mark":{"type":"rect","strokeWidth":0.4},
"encoding":{"x":{"field":"t0","type":"quantitative","title":"Time after steps (ns)","scale":{"domain":[0,1000],"nice":false},"axis":{"values":[0,200,400,600,800,1000],"format":"d"}},"x2":{"field":"t1"},"y":{"field":"z0","type":"quantitative","title":"Z offest (a.u.)","scale":{"domain":[-0.15,0.11],"nice":false},"axis":{"values":[-0.15,-0.1,-0.05,0,0.05,0.1],"format":".2f","titlePadding":3}},"y2":{"field":"z1"},
"stroke":{"field":"p","type":"quantitative","legend":null,"scale":{"domain":[0,0.1,0.2,0.3,0.4,0.5,0.6,0.7,0.8,0.9,1],"range":["#8000ff","#4d4ffc","#1a96f2","#1acee3","#4df2ce","#80ffb4","#b3f296","#e6ce74","#ff964f","#ff4f28","#ff0000"]}},
"color":{"field":"p","type":"quantitative","legend":null,"scale":{"domain":[0,0.1,0.2,0.3,0.4,0.5,0.6,0.7,0.8,0.9,1],"range":["#8000ff","#4d4ffc","#1a96f2","#1acee3","#4df2ce","#80ffb4","#b3f296","#e6ce74","#ff964f","#ff4f28","#ff0000"]}}}},
{"data":{"values":[{"t0":428,"t1":970,"z0":-0.1178,"z1":-0.0998}]},"mark":{"type":"rect","fill":null,"stroke":"#111","strokeWidth":1},"encoding":{"x":{"field":"t0","type":"quantitative"},"x2":{"field":"t1"},"y":{"field":"z0","type":"quantitative"},"y2":{"field":"z1"}}},
{"data":{"values":[{"t":953,"z":0.021},{"t":912,"z":0.0215},{"t":870,"z":0.0107},{"t":832,"z":0.0159},{"t":794,"z":0.0215},{"t":759,"z":0.015},{"t":724,"z":0.012},{"t":692,"z":0.0142},{"t":661,"z":0.0176},{"t":632,"z":0.0146},{"t":601,"z":0.0185},{"t":574,"z":0.0185},{"t":549,"z":0.0146},{"t":525,"z":0.0155},{"t":502,"z":0.0185},{"t":479,"z":0.0137},{"t":459,"z":0.018},{"t":438,"z":0.011},{"t":417,"z":0.0215},{"t":399,"z":0.0137},{"t":382,"z":0.015},{"t":366,"z":0.0146},{"t":348,"z":0.0116},{"t":332,"z":0.021},{"t":317,"z":0.014},{"t":301,"z":0.0167},{"t":289,"z":0.0185},{"t":276,"z":0.0124},{"t":264,"z":0.0193},{"t":251,"z":0.0159},{"t":241,"z":0.0219},{"t":231,"z":0.0107},{"t":218,"z":0.0189},{"t":208,"z":0.0155},{"t":199,"z":0.0193},{"t":190,"z":0.0124},{"t":180,"z":0.0185},{"t":170,"z":0.0163},{"t":161,"z":0.0163},{"t":153,"z":0.021},{"t":146,"z":0.018},{"t":139,"z":0.013},{"t":132,"z":0.014},{"t":125,"z":0.0155},{"t":118,"z":0.021},{"t":112,"z":0.015},{"t":106,"z":0.0145},{"t":100,"z":0.012},{"t":95,"z":0.019},{"t":90,"z":0.017},{"t":85,"z":0.024},{"t":80,"z":0.018},{"t":75,"z":0.016},{"t":71,"z":0.014},{"t":67,"z":0.022},{"t":63,"z":0.019},{"t":59,"z":0.015},{"t":55,"z":0.017},{"t":51,"z":0.014},{"t":47,"z":0.018},{"t":44,"z":0.016},{"t":41,"z":0.015},{"t":38,"z":0.017},{"t":35,"z":0.012},{"t":32,"z":0.007},{"t":30,"z":0.014},{"t":28,"z":0.019},{"t":26,"z":0.016},{"t":24,"z":0.022},{"t":22,"z":0.014},{"t":20,"z":0.018},{"t":18,"z":0.022},{"t":16,"z":0.016},{"t":14,"z":0.021},{"t":12,"z":0.016},{"t":10,"z":0.012},{"t":8,"z":0.009},{"t":6,"z":0.008},{"t":4,"z":0.006},{"t":2,"z":0.001}]},"mark":{"type":"point","stroke":"#3a3ad0","strokeWidth":1,"opacity":0.75,"fill":null,"size":20},"encoding":{"x":{"field":"t","type":"quantitative"},"y":{"field":"z","type":"quantitative"}}},
{"data":{"values":[{"t":428,"z":-0.1178},{"t":428,"z":-0.1217},{"t":970,"z":-0.1178},{"t":970,"z":-0.1217}]},"mark":{"type":"line","color":"#111","strokeWidth":1},"encoding":{"x":{"field":"t","type":"quantitative"},"y":{"field":"z","type":"quantitative"},"detail":{"field":"t"}}},
{"data":{"values":[{"txt":"Probability","t":700,"z":-0.1294},{"txt":"0","t":439,"z":-0.1358},{"txt":"1","t":971,"z":-0.1358}]},"mark":{"type":"text","font":"DejaVu Sans","fontSize":10,"color":"#222","baseline":"middle"},"encoding":{"x":{"field":"t","type":"quantitative"},"y":{"field":"z","type":"quantitative"},"text":{"field":"txt"}}},
{"data":{"values":[{"txt":"(c)","t":-163,"z":0.103}]},"mark":{"type":"text","font":"Liberation Sans","fontSize":16,"color":"#111","align":"left","baseline":"middle"},"encoding":{"x":{"field":"t","type":"quantitative"},"y":{"field":"z","type":"quantitative"},"text":{"field":"txt"}}}
]}
]}
]}
